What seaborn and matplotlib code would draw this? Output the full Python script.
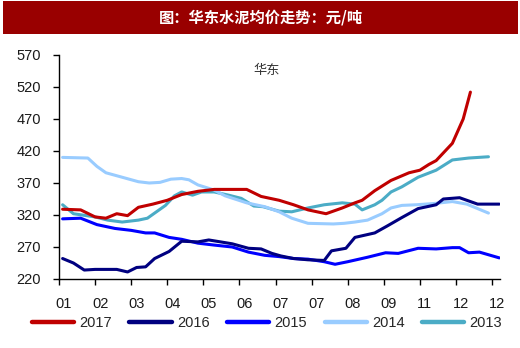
import matplotlib
matplotlib.use("Agg")
import matplotlib.pyplot as plt
import matplotlib.transforms as mtransforms
from matplotlib.patches import Rectangle
from matplotlib.lines import Line2D
import seaborn as sns
import pandas as pd

sns.set_style("white")
plt.rcParams['font.family'] = ['Liberation Sans', 'Noto Sans CJK SC', 'DejaVu Sans']

# ---- data (x in month-tick units, values in 元/吨) ----
x_labels = ["01", "02", "03", "04", "05", "06", "07", "07", "08", "09", "11", "12", "12"]
y_ticks = [220, 270, 320, 370, 420, 470, 520, 570]

x_2017 = [0.1, 0.6, 1.0, 1.3, 1.6, 1.9, 2.2, 2.6, 3.0, 3.4, 3.85, 4.3, 5.2, 5.6, 6.1, 6.5,
          6.9, 7.4, 7.85, 8.2, 8.4, 8.75, 9.2, 9.7, 10.0, 10.25, 10.45, 10.9, 11.2, 11.4]
v_2017 = [329, 328, 317, 315, 322, 319, 332, 337, 343, 352, 357, 360, 360, 349, 343, 336,
          328, 322, 331, 339, 343, 358, 374, 386, 390, 399, 405, 432, 470, 512]

x_2016 = [0.1, 0.4, 0.7, 1.0, 1.6, 1.9, 2.15, 2.4, 2.65, 3.05, 3.4, 3.85, 4.15, 4.8, 5.25,
          5.6, 5.9, 6.15, 6.5, 6.9, 7.35, 7.55, 7.75, 7.95, 8.2, 8.75, 9.1, 9.5, 9.95,
          10.45, 10.65, 11.1, 11.6, 12.2]
v_2016 = [252, 245, 234, 235, 235, 231, 238, 239, 252, 263, 279, 278, 281, 275, 268,
          267, 260, 256, 252, 250, 249, 264, 266, 268, 285, 292, 303, 316, 330,
          336, 345, 347, 337, 337]

x_2015 = [0.1, 0.6, 1.05, 1.55, 2.0, 2.4, 2.65, 3.05, 3.4, 3.85, 4.3, 4.8, 5.25, 5.7, 6.1,
          6.5, 6.9, 7.35, 7.65, 8.0, 8.55, 9.05, 9.4, 9.95, 10.45, 10.9, 11.1, 11.35,
          11.65, 12.2]
v_2015 = [314, 315, 305, 299, 296, 292, 292, 285, 282, 276, 273, 270, 262, 257, 255,
          252, 251, 247, 243, 247, 254, 261, 260, 268, 267, 269, 269, 261,
          262, 253]

x_2014 = [0.1, 0.8, 1.05, 1.3, 1.75, 2.2, 2.5, 2.8, 3.1, 3.4, 3.6, 3.85, 4.3, 4.6, 5.2,
          5.7, 6.1, 6.45, 6.9, 7.6, 7.9, 8.2, 8.55, 8.95, 9.2, 9.5, 9.9, 10.4, 10.9,
          11.3, 11.9]
v_2014 = [410, 409, 396, 386, 379, 372, 370, 371, 376, 377, 375, 367, 359, 350, 339,
          333, 325, 315, 307, 306, 307, 309, 312, 322, 331, 335, 336, 338, 341,
          337, 323]

x_2013 = [0.1, 0.4, 1.0, 1.35, 1.75, 2.2, 2.45, 2.75, 2.95, 3.2, 3.4, 3.7, 3.95, 4.3,
          4.7, 5.05, 5.4, 5.65, 6.1, 6.45, 6.9, 7.35, 7.85, 8.2, 8.4, 8.75, 8.95, 9.2,
          9.5, 9.95, 10.45, 10.9, 11.35, 11.9]
v_2013 = [336, 322, 317, 312, 309, 312, 315, 327, 335, 350, 356, 351, 356, 356,
          351, 346, 334, 333, 326, 325, 331, 336, 339, 337, 328, 336, 343, 356,
          364, 379, 390, 406, 409, 411]

series = [
    ("2017", x_2017, v_2017, "#C00000"),
    ("2016", x_2016, v_2016, "#000080"),
    ("2015", x_2015, v_2015, "#0000FF"),
    ("2014", x_2014, v_2014, "#99CCFF"),
    ("2013", x_2013, v_2013, "#4BACC6"),
]

fig = plt.figure(figsize=(5.2, 3.48), dpi=100)
ax = fig.add_axes([59 / 520, 1 - 279 / 348, 441 / 520, 224 / 348])

# draw bottom-most first (2013) so 2017 ends on top
for name, xs, vs, col in reversed(series):
    df = pd.DataFrame({"x": xs, "v": vs})
    sns.lineplot(data=df, x="x", y="v", ax=ax, color=col, linewidth=2.2,
                 sort=False, estimator=None, legend=False)

ax.set_xlim(0, 12.22)
ax.set_ylim(220, 570)
ax.set_yticks(y_ticks)
ax.set_yticklabels([str(t) for t in y_ticks])
ax.set_xticks(range(len(x_labels)))
ax.set_xticklabels(x_labels)
ax.set_xlabel("")
ax.set_ylabel("")
for s in ["top", "right"]:
    ax.spines[s].set_visible(False)
for s in ["left", "bottom"]:
    ax.spines[s].set_color("black")
    ax.spines[s].set_linewidth(1.0)
ax.tick_params(axis="both", direction="out", length=4, width=1, color="black",
               labelsize=10.5, labelcolor="#1a1a1a", bottom=True, left=True)
ax.tick_params(axis="y", pad=9)
ax.tick_params(axis="x", pad=9)
offset = mtransforms.ScaledTranslation(5 / 100, 0, fig.dpi_scale_trans)
for lab in ax.get_xticklabels():
    lab.set_transform(lab.get_transform() + offset)

fig.text(267 / 520, 1 - 70 / 348, "华东", fontsize=9.5, color="#333333",
         family=["Noto Sans CJK SC"], ha="center", va="center")

# title bar
fig.patches.append(Rectangle((3 / 520, 1 - 34 / 348), 515 / 520, 33 / 348,
                             transform=fig.transFigure, facecolor="#990000",
                             edgecolor="none", zorder=0))
fig.text(261 / 520, 1 - 17.5 / 348, "图：华东水泥均价走势：元/吨", color="white",
         fontsize=11, fontweight="bold", family=["Noto Sans CJK SC", "DejaVu Sans"],
         ha="center", va="center")

handles = [Line2D([0], [0], color=c, linewidth=3.2) for _, _, _, c in series]
labels = [n for n, _, _, _ in series]
fig.legend(handles, labels, loc="center", bbox_to_anchor=(267 / 520, 1 - 323 / 348),
           ncol=5, frameon=False, fontsize=10.5, handlelength=2.9,
           handletextpad=0.35, columnspacing=1.2, borderaxespad=0)

fig.savefig("out.png", dpi=100)
